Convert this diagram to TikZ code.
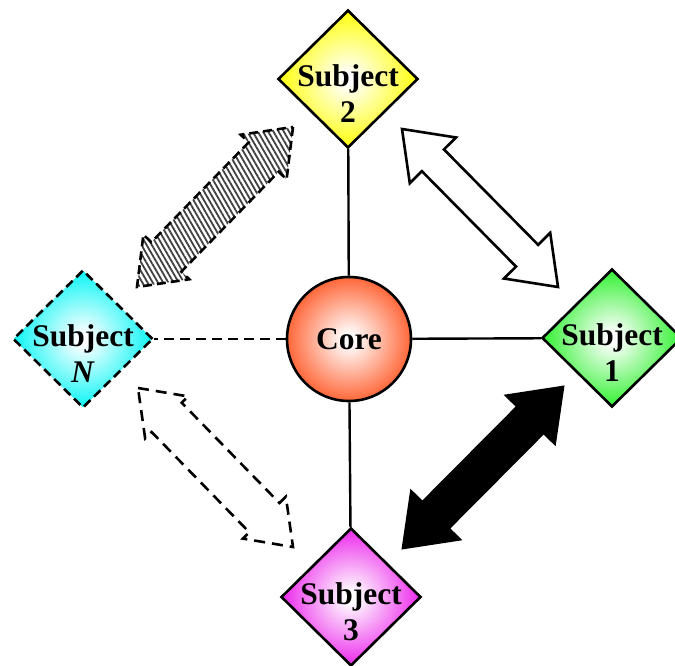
\documentclass[tikz,border=0pt]{standalone}
\usepackage{fontspec}
\setmainfont{Liberation Serif}
\usetikzlibrary{shapes.geometric,calc,patterns.meta}
\definecolor{cyel}{RGB}{255,255,0}
\definecolor{cgrn}{RGB}{40,240,40}
\definecolor{cmag}{RGB}{235,30,235}
\definecolor{ccya}{RGB}{0,245,245}
\definecolor{cora}{RGB}{255,90,40}
\pgfdeclareradialshading{shyel}{\pgfpoint{0bp}{0bp}}{color(0bp)=(white); color(2bp)=(white); color(26bp)=(cyel); color(50bp)=(cyel)}
\pgfdeclareradialshading{shgrn}{\pgfpoint{0bp}{0bp}}{color(0bp)=(white); color(2bp)=(white); color(26bp)=(cgrn); color(50bp)=(cgrn)}
\pgfdeclareradialshading{shmag}{\pgfpoint{0bp}{0bp}}{color(0bp)=(white); color(2bp)=(white); color(26bp)=(cmag); color(50bp)=(cmag)}
\pgfdeclareradialshading{shcya}{\pgfpoint{0bp}{0bp}}{color(0bp)=(white); color(2bp)=(white); color(26bp)=(ccya); color(50bp)=(ccya)}
\pgfdeclareradialshading{shora}{\pgfpoint{0bp}{0bp}}{color(0bp)=(white); color(2bp)=(white); color(27bp)=(cora); color(50bp)=(cora)}
% double block arrow: [style]{tipA}{tipB}{head length}{head half width}{shaft half width}
\newcommand\fatarrow[6][]{%
  \path ($(#2)!#4!(#3)$) coordinate (fahA) ($(#3)!#4!(#2)$) coordinate (fahB);
  \draw[#1] (#2) -- ($(fahA)!#5!90:(#3)$) -- ($(fahA)!#6!90:(#3)$)
    -- ($(fahB)!#6!-90:(#2)$) -- ($(fahB)!#5!-90:(#2)$) -- (#3)
    -- ($(fahB)!#5!90:(#2)$) -- ($(fahB)!#6!90:(#2)$)
    -- ($(fahA)!#6!-90:(#3)$) -- ($(fahA)!#5!-90:(#3)$) -- cycle;}
\tikzset{
  subj/.style={diamond, draw, line width=2.6pt, minimum width=140pt, minimum height=138pt, inner sep=0pt, shade},
  lbl/.style={font=\fontsize{31.5}{36}\selectfont\bfseries, align=center, inner sep=0pt},
  link/.style={line width=2.4pt},
  fat/.style={line width=2.6pt, line join=miter},
}
\begin{document}
\begin{tikzpicture}[x=1pt,y=-1pt]
\useasboundingbox (0,0) rectangle (675,666);
% nodes
\node[subj, shading=shyel] (s2) at (348,79) {};
\node[subj, shading=shgrn] (s1) at (612,338) {};
\node[subj, shading=shmag] (s3) at (351,597) {};
\node[subj, shading=shcya, dash pattern=on 9pt off 5pt] (sN) at (83,339) {};
\node[circle, draw, line width=2.6pt, minimum size=124pt, inner sep=0pt, shade, shading=shora, lbl] (core) at (349,339) {Core};
\node[lbl] (t2) at ([yshift=-15pt]s2.center) {Subject\\2};
\node[lbl] (t1) at ([yshift=-15pt]s1.center) {Subject\\1};
\node[lbl] (t3) at ([yshift=-15pt]s3.center) {Subject\\3};
\node[lbl] (tN) at ([yshift=-15pt]sN.center) {Subject\\\textit{N}};
% links to core
\draw[link] (core) -- (s2);
\draw[link] (core) -- (s1);
\draw[link] (core) -- (s3);
\draw[link, dash pattern=on 10pt off 6pt] (core) -- (sN);
% arrow end points
\coordinate (hA) at (293,127); \coordinate (hB) at (137,287);
\coordinate (oA) at (402,129); \coordinate (oB) at (558,287);
\coordinate (bA) at (563,387); \coordinate (bB) at (403,548);
\coordinate (dA) at (138,388); \coordinate (dB) at (293,547);
\fatarrow[fat, dash pattern=on 9pt off 5pt, pattern={Lines[angle=-60,distance=4.5pt,line width=1.8pt]}, pattern color=black!75]{hA}{hB}{42pt}{32pt}{21pt}
\fatarrow[fat, fill=white]{oA}{oB}{44pt}{32.5pt}{15.5pt}
\fatarrow[fat, fill=black]{bA}{bB}{46pt}{34pt}{18.5pt}
\fatarrow[fat, dash pattern=on 11pt off 7pt]{dA}{dB}{41pt}{30pt}{21pt}
\end{tikzpicture}
\end{document}
